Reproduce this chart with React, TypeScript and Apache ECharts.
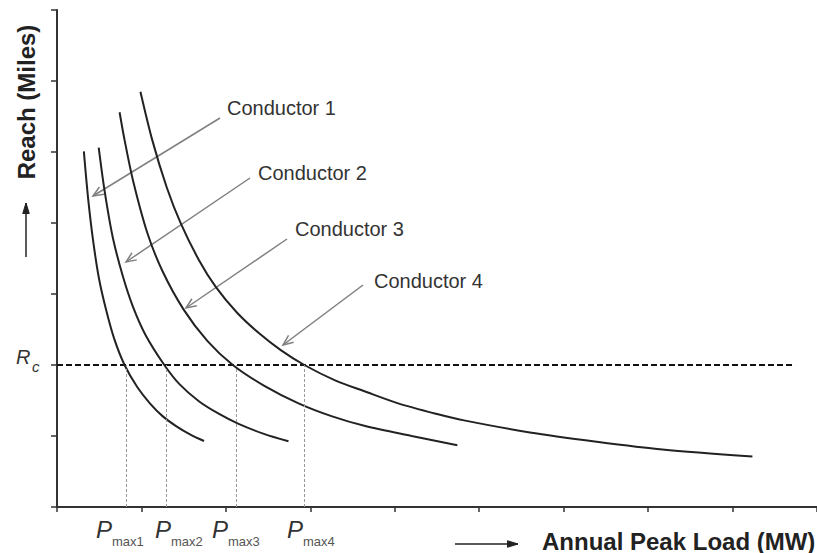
import React, { useEffect, useRef } from "react";
import * as echarts from "echarts";

// Curves: [Annual peak load, Reach] in chart units
const conductor1: [number, number][] = [
  [0.318, 5.01], [0.37, 4.33], [0.43, 3.73], [0.5, 3.2], [0.585, 2.76], [0.68, 2.36], [0.8, 2.0],
  [0.95, 1.69], [1.1, 1.46], [1.25, 1.28], [1.41, 1.14], [1.58, 1.02], [1.741, 0.93],
];
const conductor2: [number, number][] = [
  [0.494, 5.06], [0.56, 4.48], [0.66, 3.8], [0.78, 3.25], [0.9, 2.82], [1.05, 2.42], [1.271, 2.0],
  [1.45, 1.73], [1.68, 1.49], [1.92, 1.31], [2.15, 1.17], [2.45, 1.03], [2.741, 0.925],
];
const conductor3: [number, number][] = [
  [0.741, 5.56], [0.8, 5.17], [0.9, 4.6], [1.07, 3.86], [1.25, 3.32], [1.5, 2.78], [1.78, 2.34], [2.082, 2.0],
  [2.45, 1.71], [2.86, 1.46], [3.25, 1.28], [3.65, 1.14], [4.2, 1.0], [4.741, 0.87],
];
const conductor4: [number, number][] = [
  [0.988, 5.85], [1.13, 5.16], [1.3, 4.5], [1.467, 3.99], [1.68, 3.48], [1.88, 3.1], [2.13, 2.74], [2.39, 2.45],
  [2.65, 2.21], [2.929, 2.0], [3.3, 1.78], [3.64, 1.63], [4.04, 1.46], [4.5, 1.31], [4.82, 1.22], [5.6, 1.05],
  [6.39, 0.92], [7.17, 0.81], [8.235, 0.71],
];
const curves = [conductor1, conductor2, conductor3, conductor4];
const conductorNames = ["Conductor 1", "Conductor 2", "Conductor 3", "Conductor 4"];
const rcValue = 2;
const rcLineEnd = 8.74;
const pmaxValues = [0.82, 1.29, 2.12, 2.93];
const pmaxLabels = ["max1", "max2", "max3", "max4"];

const FONT = "'Liberation Sans', Arial, Helvetica, sans-serif";

function arrow(x1: number, y1: number, x2: number, y2: number, color: string, width: number, filled: boolean, headLen = 11, headAng = 0.4) {
  const a = Math.atan2(y2 - y1, x2 - x1);
  const p1 = [x2 - headLen * Math.cos(a - headAng), y2 - headLen * Math.sin(a - headAng)];
  const p2 = [x2 - headLen * Math.cos(a + headAng), y2 - headLen * Math.sin(a + headAng)];
  const els: any[] = [
    { type: "line", shape: { x1, y1, x2, y2 }, style: { stroke: color, lineWidth: width }, silent: true },
  ];
  if (filled) {
    els.push({ type: "polygon", shape: { points: [p1, [x2, y2], p2] }, style: { fill: color, stroke: color, lineWidth: 1 }, silent: true });
  } else {
    els.push({ type: "polyline", shape: { points: [p1, [x2, y2], p2] }, style: { stroke: color, lineWidth: width, fill: "none" }, silent: true });
  }
  return els;
}

export default function App() {
  const ref = useRef<HTMLDivElement>(null);
  useEffect(() => {
    if (!ref.current) return;
    const chart = echarts.init(ref.current, null, { renderer: "svg" });

    const labelPos = [
      { x: 227, y: 108, ax: [220, 118, 93, 196] },
      { x: 258, y: 173, ax: [250, 178, 126, 262] },
      { x: 295, y: 229, ax: [287, 239, 186, 308] },
      { x: 374, y: 281, ax: [363, 285, 283, 345] },
    ];
    const graphics: any[] = [];
    labelPos.forEach((p, i) => {
      graphics.push({
        type: "text", x: p.x, y: p.y, silent: true,
        style: { text: conductorNames[i], font: `20px ${FONT}`, fill: "#333", verticalAlign: "middle", align: "left" },
      });
      graphics.push(...arrow(p.ax[0], p.ax[1], p.ax[2], p.ax[3], "#808080", 1.5, false));
    });
    const pPos = [96, 155, 212, 287];
    pPos.forEach((x, i) => {
      graphics.push({ type: "text", x, y: 529, silent: true, style: { text: "P", font: `italic 24px ${FONT}`, fill: "#333", verticalAlign: "middle" } });
      graphics.push({ type: "text", x: x + 16, y: 541, silent: true, style: { text: pmaxLabels[i], font: `13px ${FONT}`, fill: "#555", verticalAlign: "middle" } });
    });
    graphics.push({ type: "text", x: 16, y: 357, silent: true, style: { text: "R", font: `italic 20px ${FONT}`, fill: "#333", verticalAlign: "middle" } });
    graphics.push({ type: "text", x: 32, y: 366, silent: true, style: { text: "c", font: `italic 15px ${FONT}`, fill: "#333", verticalAlign: "middle" } });
    graphics.push({
      type: "text", x: 26, y: 102, rotation: Math.PI / 2, silent: true,
      style: { text: "Reach (Miles)", font: `bold 24px ${FONT}`, fill: "#222", align: "center", verticalAlign: "middle" },
    });
    graphics.push({
      type: "text", x: 542, y: 541, silent: true,
      style: { text: "Annual Peak Load (MW)", font: `bold 24px ${FONT}`, fill: "#222", align: "left", verticalAlign: "middle" },
    });
    graphics.push(...arrow(26, 257, 26, 203, "#222", 1.5, true, 11, 0.3));
    graphics.push(...arrow(455, 544, 518, 544, "#222", 1.5, true, 11, 0.3));

    const curveSeries = curves.map((d, i) => ({
      type: "line",
      name: conductorNames[i],
      data: d,
      smooth: 0.3,
      symbol: "none",
      lineStyle: { color: "#222", width: 2 },
      silent: true,
      z: 3,
    }));

    chart.setOption({
      animation: false,
      backgroundColor: "#fff",
      grid: { left: 57, right: -5, top: 10, bottom: 46, containLabel: false },
      xAxis: {
        type: "value", min: 0, max: 9, interval: 1,
        axisLine: { show: true, lineStyle: { color: "#333", width: 2 } },
        axisTick: { show: true, length: 5, lineStyle: { color: "#333", width: 1.5 } },
        axisLabel: { show: false },
        splitLine: { show: false },
      },
      yAxis: {
        type: "value", min: 0, max: 7, interval: 1,
        axisLine: { show: true, lineStyle: { color: "#333", width: 2 } },
        axisTick: { show: true, length: 6, lineStyle: { color: "#333", width: 1.5 } },
        axisLabel: { show: false },
        splitLine: { show: false },
      },
      series: [
        ...curveSeries,
        {
          type: "line",
          name: "Rc",
          data: [[0, rcValue], [rcLineEnd, rcValue]],
          symbol: "none",
          lineStyle: { color: "#111", width: 2.2, type: [6, 3] },
          silent: true,
          z: 2,
          markLine: {
            silent: true,
            symbol: ["none", "none"],
            label: { show: false },
            lineStyle: { color: "#999", width: 1, type: [3, 2] },
            data: pmaxValues.map((p) => [{ coord: [p, 0] }, { coord: [p, rcValue] }]),
          },
        },
      ],
      graphic: graphics,
    });
    return () => chart.dispose();
  }, []);
  return <div ref={ref} style={{ position: "absolute", left: 0, top: 0, width: 817, height: 553 }} />;
}
